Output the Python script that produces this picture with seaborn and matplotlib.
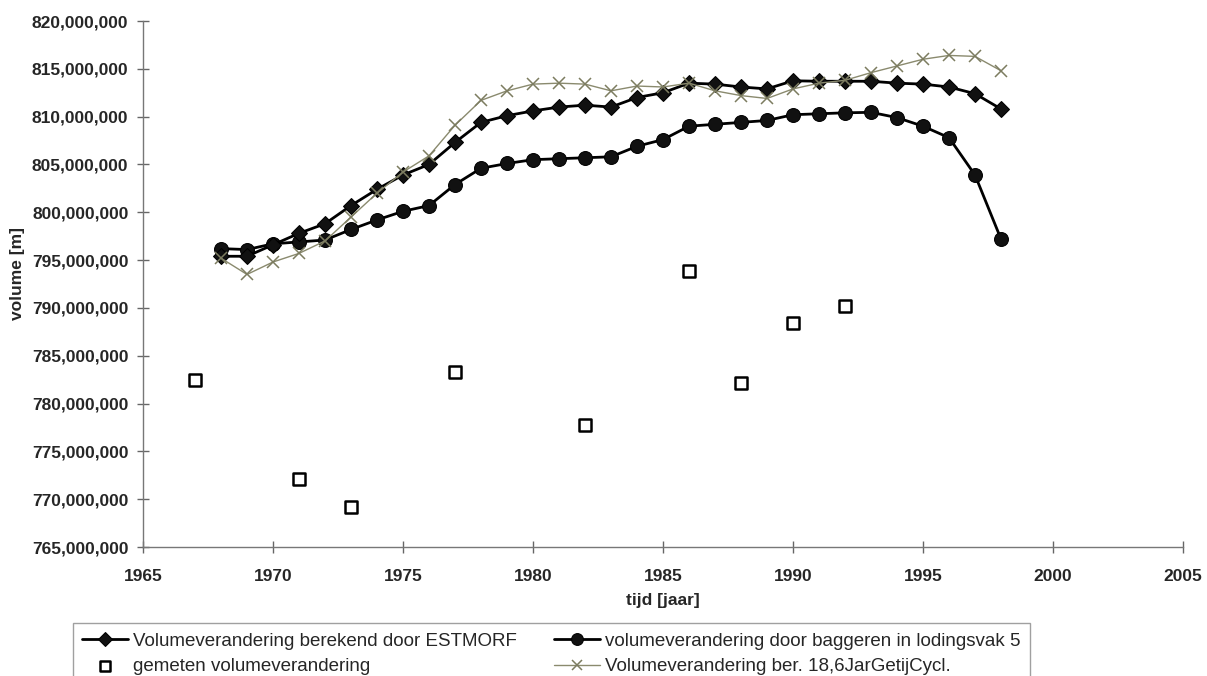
import numpy as np
import pandas as pd
import matplotlib
matplotlib.use("Agg")
import matplotlib.pyplot as plt
from matplotlib.ticker import FuncFormatter, MultipleLocator
import seaborn as sns

# Volumes in millions of m3
years = list(range(1968, 1999))
estmorf = [795.4, 795.4, 796.6, 797.8, 798.8, 800.7, 802.4, 803.9, 805.0, 807.3,
           809.4, 810.1, 810.6, 811.0, 811.2, 811.0, 812.0, 812.5, 813.5, 813.4,
           813.1, 812.9, 813.75, 813.7, 813.7, 813.7, 813.5, 813.4, 813.1, 812.4,
           810.8]
baggeren = [796.2, 796.1, 796.7, 796.9, 797.1, 798.2, 799.2, 800.1, 800.7, 802.9,
            804.6, 805.1, 805.5, 805.6, 805.7, 805.8, 806.9, 807.6, 809.0, 809.2,
            809.4, 809.6, 810.2, 810.3, 810.4, 810.45, 809.9, 809.0, 807.8, 803.9,
            797.2]
getijcyclus = [795.2, 793.5, 794.8, 795.7, 797.0, 799.5, 802.0, 804.2, 805.9, 809.1,
               811.7, 812.7, 813.4, 813.5, 813.4, 812.7, 813.2, 813.1, 813.5, 812.7,
               812.2, 811.9, 812.9, 813.5, 813.8, 814.6, 815.3, 816.0, 816.4, 816.3,
               814.8]
meetjaren = [1967, 1971, 1973, 1977, 1982, 1986, 1988, 1990, 1992]
gemeten = [782.5, 772.1, 769.2, 783.3, 777.8, 793.9, 782.1, 788.4, 790.2]

labels = [
    "Volumeverandering berekend door ESTMORF",
    "volumeverandering door baggeren in lodingsvak 5",
    "gemeten volumeverandering",
    "Volumeverandering ber. 18,6JarGetijCycl.",
]

sns.set_theme(style="white")
plt.rcParams["font.family"] = ["Liberation Sans", "DejaVu Sans"]

df = pd.DataFrame({
    "jaar": years,
    "estmorf": np.array(estmorf) * 1e6,
    "baggeren": np.array(baggeren) * 1e6,
    "getij": np.array(getijcyclus) * 1e6,
})
dfm = pd.DataFrame({"jaar": meetjaren, "gemeten": np.array(gemeten) * 1e6})

fig = plt.figure(figsize=(12.07, 6.76), dpi=100)
ax = fig.add_axes([143 / 1207, 1 - 547 / 676, (1183 - 143) / 1207, (547 - 21) / 676])

sns.lineplot(data=df, x="jaar", y="getij", ax=ax, color="#8a8a6e", linewidth=1.0,
             marker="x", markersize=9, markeredgewidth=1.1, markeredgecolor="#7c7c60",
             label=labels[3], zorder=4)
sns.lineplot(data=df, x="jaar", y="baggeren", ax=ax, color="black", linewidth=2.0,
             marker="o", markersize=10, markeredgecolor="black", markerfacecolor="#111111",
             label=labels[1], zorder=3)
sns.lineplot(data=df, x="jaar", y="estmorf", ax=ax, color="black", linewidth=2.0,
             marker="D", markersize=8.5, markeredgecolor="black", markerfacecolor="#111111",
             label=labels[0], zorder=3)
sns.scatterplot(data=dfm, x="jaar", y="gemeten", ax=ax, marker="s", s=75,
                facecolor="white", edgecolor="black", linewidth=1.8,
                label=labels[2], zorder=5)

ax.set_xlim(1965, 2005)
ax.set_ylim(765e6, 820e6)
ax.xaxis.set_major_locator(MultipleLocator(5))
ax.yaxis.set_major_locator(MultipleLocator(5e6))
ax.yaxis.set_major_formatter(FuncFormatter(lambda v, p: f"{v:,.0f}"))

for s in ["top", "right"]:
    ax.spines[s].set_visible(False)
for s in ["left", "bottom"]:
    ax.spines[s].set_color("#777777")
    ax.spines[s].set_linewidth(1.0)

ax.tick_params(axis="both", direction="inout", length=9, width=1.0, color="#666666",
               labelsize=12.5, left=True, bottom=True)
ax.tick_params(axis="y", pad=6)
ax.tick_params(axis="x", pad=11)
for t in ax.get_xticklabels() + ax.get_yticklabels():
    t.set_fontweight("bold")

ax.set_xlabel("tijd [jaar]", fontsize=12.5, fontweight="bold", labelpad=7)
ax.set_ylabel("volume [m]", fontsize=12.5, fontweight="bold")
ax.yaxis.set_label_coords(-0.1135, 0.52)

# Legend below the plot, two columns
h, l = ax.get_legend_handles_labels()
order = [labels[0], labels[2], labels[1], labels[3]]
hmap = dict(zip(l, h))
ax.legend_.remove()
leg = fig.legend([hmap[k] for k in order], order, ncol=2,
                 loc="upper left", bbox_to_anchor=(73 / 1207, 1 - 623 / 676),
                 bbox_transform=fig.transFigure, frameon=True, fancybox=False,
                 edgecolor="#888888", handlelength=2.45, handletextpad=0.25,
                 columnspacing=2.0, borderpad=0.5, labelspacing=0.45,
                 borderaxespad=0, markerscale=0.85, prop={"size": 13.5})
leg.get_frame().set_linewidth(1.0)

fig.savefig("out.png", dpi=100, facecolor="white")
